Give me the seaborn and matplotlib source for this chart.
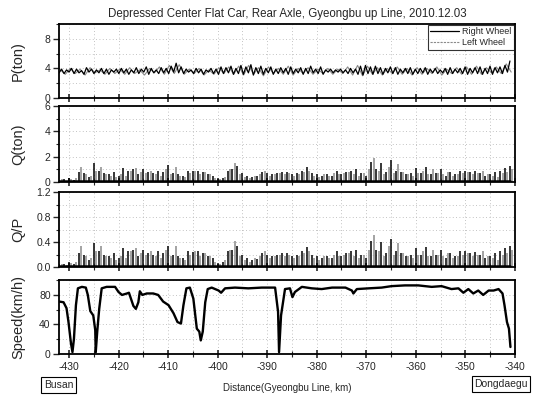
import numpy as np
import pandas as pd
import seaborn as sns
import matplotlib.pyplot as plt
from matplotlib.ticker import MultipleLocator

# ==========================================
# DATA
# ==========================================
title = 'Depressed Center Flat Car, Rear Axle, Gyeongbu up Line, 2010.12.03'
km_start, km_end = -432, -341

# wheel load P (ton), right wheel every 0.5 km, left wheel every 1 km
p_right = [3.4, 3.9, 3.3, 3.8, 3.5, 4.0, 3.3, 3.9, 3.4, 3.7, 3.2, 4.1, 3.5, 3.9, 3.3, 3.8, 3.4, 4.0, 3.3, 3.9, 3.2, 3.8, 3.5, 3.9,
           3.3, 4.0, 3.4, 3.9, 3.2, 3.8, 3.4, 4.1, 3.3, 3.9, 3.5, 4.2, 3.2, 4.0, 3.4, 3.8, 3.3, 4.1, 3.4, 4.0, 3.3, 4.3, 3.5, 4.7,
           3.4, 4.2, 3.3, 3.9, 3.5, 3.8, 3.3, 4.0, 3.4, 3.9, 3.2, 3.8, 3.5, 4.0, 3.3, 3.9, 3.2, 4.2, 3.3, 4.1, 3.4, 4.3, 3.2, 4.0,
           3.3, 4.4, 3.2, 4.2, 3.4, 4.5, 3.1, 4.1, 3.3, 4.3, 3.2, 4.0, 3.4, 4.2, 3.2, 3.9, 3.3, 4.1, 3.4, 4.0, 3.2, 4.2, 3.3, 3.9,
           3.4, 4.1, 3.2, 4.0, 3.3, 4.3, 3.4, 3.9, 3.3, 4.2, 3.2, 3.8, 3.5, 3.9, 3.4, 3.8, 3.5, 3.9, 3.4, 3.8, 3.3, 4.0, 3.4, 3.9,
           3.2, 4.3, 3.1, 4.4, 3.3, 4.2, 3.2, 4.3, 3.3, 4.1, 3.2, 4.0, 3.4, 4.2, 3.3, 4.1, 3.2, 3.9, 3.4, 4.0, 3.3, 4.1, 3.2, 3.9,
           3.3, 4.0, 3.4, 4.1, 3.2, 3.9, 3.4, 4.0, 3.3, 3.8, 3.4, 4.0, 3.2, 4.1, 3.3, 3.9, 3.4, 4.0, 3.3, 4.2, 3.2, 4.0, 3.4, 4.1,
           3.3, 4.2, 3.2, 4.0, 3.3, 4.3, 3.2, 4.1, 3.4, 4.2, 3.3, 4.4, 3.5, 5.0]
p_left = [3.8, 3.2, 4.0, 3.3, 3.9, 3.1, 4.1, 3.4, 3.8, 3.2, 4.0, 3.3,
          3.9, 3.2, 4.1, 3.3, 3.8, 3.1, 4.0, 3.4, 4.2, 3.2, 4.4, 3.3,
          4.5, 3.2, 3.9, 3.3, 4.0, 3.1, 3.8, 3.2, 4.1, 3.3, 4.2, 3.2,
          4.3, 3.1, 4.4, 3.2, 4.1, 3.0, 4.2, 3.3, 4.0, 3.2, 4.3, 3.1,
          4.0, 3.3, 4.1, 3.2, 3.9, 3.3, 4.0, 3.2, 3.9, 3.3, 4.2, 3.1,
          4.4, 3.0, 4.3, 3.2, 4.1, 3.1, 4.0, 3.3, 4.2, 3.2, 4.0, 3.1,
          4.1, 3.2, 4.0, 3.3, 4.2, 3.1, 3.9, 3.3, 4.1, 3.2, 4.2, 3.2,
          4.3, 3.2, 4.1, 3.4, 4.2, 3.3, 4.6, 3.5]

# lateral force Q (ton), peak per km
q_right = [0.15, 0.2, 0.3, 0.15, 0.8, 0.7, 0.4, 1.5, 0.9, 0.7, 0.6, 0.8, 0.5, 1.1, 0.9, 1.0,
           0.6, 1.0, 0.8, 0.7, 0.9, 0.8, 1.35, 0.7, 0.6, 0.5, 0.9, 0.85, 0.9, 0.8, 0.6, 0.5,
           0.2, 0.3, 0.9, 1.0, 1.3, 0.7, 0.5, 0.4, 0.45, 0.8, 0.7, 0.6, 0.7, 0.8,
           0.8, 0.6, 0.7, 0.9, 1.15, 0.7, 0.6, 0.5, 0.65, 0.5, 0.9, 0.6, 0.8, 0.9, 1.0, 0.7,
           0.5, 1.6, 1.0, 1.5, 0.8, 1.7, 0.9, 0.8, 0.6, 0.7, 1.1, 0.7, 1.15, 0.6, 0.7, 1.0,
           0.5, 0.8, 0.6, 0.9, 0.9, 0.8, 0.85, 0.7, 0.5, 0.6, 0.8, 0.9, 1.1, 1.3]
q_left = [0.2, 0.1, 0.25, 0.3, 1.2, 0.6, 0.5, 0.9, 1.2, 0.6, 0.5, 0.4, 0.6, 0.5, 0.9, 1.1,
          0.8, 0.7, 0.9, 0.6, 0.5, 1.0, 0.6, 1.2, 0.5, 0.4, 0.7, 0.9, 0.6, 0.8, 0.6, 0.3,
          0.2, 0.4, 1.0, 1.5, 0.6, 0.4, 0.3, 0.5, 0.6, 0.9, 0.5, 0.6, 0.7, 0.6,
          0.7, 0.5, 0.6, 0.8, 0.9, 0.5, 0.4, 0.6, 0.5, 0.7, 0.6, 0.7, 0.8, 0.6, 0.5, 0.7,
          1.0, 1.9, 0.9, 0.6, 1.2, 0.7, 1.4, 0.8, 0.6, 0.5, 0.7, 0.9, 0.6, 1.0, 0.7, 0.6,
          0.8, 0.5, 0.6, 0.7, 0.8, 0.6, 0.7, 0.9, 0.6, 0.5, 0.4, 0.7, 0.8, 1.0]

# derailment coefficient Q/P, peak per km
qp_right = [0.04, 0.05, 0.08, 0.04, 0.22, 0.19, 0.11, 0.38, 0.25, 0.19, 0.17, 0.22, 0.14, 0.3, 0.25, 0.28,
            0.17, 0.28, 0.22, 0.19, 0.25, 0.22, 0.33, 0.19, 0.17, 0.14, 0.25, 0.24, 0.25, 0.22, 0.17, 0.14,
            0.05, 0.08, 0.25, 0.28, 0.33, 0.19, 0.14, 0.11, 0.12, 0.22, 0.19, 0.17, 0.19, 0.22,
            0.22, 0.17, 0.19, 0.25, 0.32, 0.19, 0.17, 0.14, 0.18, 0.14, 0.25, 0.17, 0.22, 0.25, 0.28, 0.19,
            0.14, 0.42, 0.28, 0.4, 0.22, 0.45, 0.25, 0.22, 0.17, 0.19, 0.3, 0.19, 0.32, 0.17, 0.19, 0.28,
            0.14, 0.22, 0.17, 0.25, 0.25, 0.22, 0.24, 0.19, 0.14, 0.17, 0.22, 0.25, 0.3, 0.33]
qp_left = [0.05, 0.03, 0.07, 0.08, 0.33, 0.17, 0.14, 0.25, 0.33, 0.17, 0.14, 0.11, 0.17, 0.14, 0.25, 0.3,
           0.22, 0.19, 0.25, 0.17, 0.14, 0.28, 0.17, 0.33, 0.14, 0.11, 0.19, 0.25, 0.17, 0.22, 0.17, 0.08,
           0.05, 0.11, 0.28, 0.42, 0.17, 0.11, 0.08, 0.14, 0.17, 0.25, 0.14, 0.17, 0.19, 0.17,
           0.19, 0.14, 0.17, 0.22, 0.25, 0.14, 0.11, 0.17, 0.14, 0.19, 0.17, 0.19, 0.22, 0.17, 0.14, 0.19,
           0.28, 0.52, 0.25, 0.17, 0.33, 0.19, 0.38, 0.22, 0.17, 0.14, 0.19, 0.25, 0.17, 0.28, 0.19, 0.17,
           0.22, 0.14, 0.17, 0.19, 0.22, 0.17, 0.19, 0.25, 0.17, 0.14, 0.11, 0.19, 0.22, 0.28]

# running speed
speed_km = [-432.0, -431.1, -430.5, -430.1, -429.6, -429.3, -429.0, -428.6, -428.2, -427.4, -426.6, -426.2,
            -425.7, -425.1, -424.7, -424.6, -424.3, -423.9, -423.4, -422.4, -420.7, -420.0, -419.3, -418.3,
            -417.9, -417.5, -417.0, -416.5, -416.0, -415.7, -415.2, -414.3, -413.0, -412.0, -411.0, -409.9,
            -408.9, -408.1, -407.4, -406.9, -406.3, -405.6, -404.9, -404.2, -403.7, -403.4, -403.0, -402.5,
            -402.0, -401.2, -399.8, -399.3, -398.5, -396.5, -393.8, -391.1, -388.4, -387.8, -387.6, -387.2,
            -386.4, -385.4, -384.9, -384.4, -383.0, -381.0, -379.0, -376.9, -374.2, -372.9, -372.6, -371.9,
            -369.5, -366.9, -364.9, -362.2, -359.5, -356.8, -354.8, -352.8, -351.4, -350.4, -349.4, -348.4,
            -347.4, -346.4, -345.3, -344.3, -343.3, -342.5, -342.1, -341.6, -341.2, -340.9]
speed_kmh = [71, 70, 62, 43, 14, 2, 20, 66, 89, 91, 90, 80,
             58, 52, 32, 2, 30, 61, 89, 91, 91, 84, 80, 82,
             83, 75, 65, 61, 70, 85, 80, 82, 82, 80, 71, 66,
             55, 43, 41, 66, 89, 90, 75, 34, 30, 18, 30, 70,
             88, 90, 86, 83, 89, 90, 89, 90, 90, 57, 2, 52,
             88, 89, 77, 84, 91, 89, 88, 90, 90, 86, 82, 88,
             89, 90, 92, 93, 93, 91, 92, 88, 89, 83, 88, 82,
             86, 80, 86, 86, 88, 82, 66, 43, 34, 9]

# ==========================================
# PLOT
# ==========================================
sns.set_theme(style="ticks")
plt.rcParams['font.family'] = ['Liberation Sans', 'DejaVu Sans']
plt.rcParams['axes.linewidth'] = 1.3
plt.rcParams['axes.unicode_minus'] = False

right_color = 'black'
left_color = '#8a8a8a'

fig, axes = plt.subplots(4, 1, sharex=True, figsize=(5.42, 3.96), dpi=100)
fig.patch.set_facecolor('white')

# panel positions [left, bottom, width, height] in figure fraction
panel_pos = [[0.109, 0.7525, 0.841, 0.187],
             [0.109, 0.5404, 0.841, 0.192],
             [0.109, 0.3258, 0.841, 0.189],
             [0.109, 0.1071, 0.841, 0.187]]
for ax, pos in zip(axes, panel_pos):
    ax.set_position(pos)

# P
x_pr = np.linspace(km_start, km_end, len(p_right))
x_pl = np.linspace(km_start + 0.25, km_end + 0.25, len(p_left))
sns.lineplot(x=x_pl, y=p_left, ax=axes[0], color=left_color, linewidth=0.8, label='Left Wheel')
sns.lineplot(x=x_pr, y=p_right, ax=axes[0], color=right_color, linewidth=0.9, label='Right Wheel')

# Q and Q/P as spikes
x_r = np.linspace(km_start, km_end, len(q_right))
x_l = x_r + 0.5
axes[1].vlines(x_l, 0, q_left, color=left_color, linewidth=1.1)
axes[1].vlines(x_r, 0, q_right, color=right_color, linewidth=1.1)
axes[1].plot(x_r, np.full(len(x_r), 0.06), color=right_color, linewidth=1.8)
axes[2].vlines(x_l, 0, qp_left, color=left_color, linewidth=1.1)
axes[2].vlines(x_r, 0, qp_right, color=right_color, linewidth=1.1)
axes[2].plot(x_r, np.full(len(x_r), 0.015), color=right_color, linewidth=1.8)

# speed
sns.lineplot(x=speed_km, y=speed_kmh, ax=axes[3], color='black', linewidth=1.7, sort=False)

ylabels = ['P(ton)', 'Q(ton)', 'Q/P', 'Speed(km/h)']
ylims = [(0, 10), (0, 6), (0, 1.2), (0, 101)]
major = [4, 2, 0.4, 40]
for ax, lab, lim, mj in zip(axes, ylabels, ylims, major):
    ax.set_ylim(*lim)
    ax.set_xlim(-432, -340)
    ax.set_ylabel(lab, fontsize=10.5, labelpad=2)
    ax.yaxis.set_label_coords(-0.075, 0.5)
    ax.yaxis.set_major_locator(MultipleLocator(mj))
    ax.yaxis.set_minor_locator(MultipleLocator(mj / 2))
    ax.xaxis.set_major_locator(MultipleLocator(10))
    ax.xaxis.set_minor_locator(MultipleLocator(5))
    ax.tick_params(axis='y', which='major', direction='out', length=4, width=1, labelsize=7.5, pad=2)
    ax.tick_params(axis='y', which='minor', direction='out', length=2, width=0.8)
    ax.tick_params(axis='x', which='major', direction='inout', length=6, width=1.2, labelsize=7.5, pad=3)
    ax.tick_params(axis='x', which='minor', direction='inout', length=4, width=0.8)
    ax.grid(True, which='both', color='#b0b0b0', linestyle=(0, (1, 3)), linewidth=0.6)
    ax.set_axisbelow(True)
    for s in ax.spines.values():
        s.set_visible(True)
        s.set_color('black')

axes[2].yaxis.set_major_formatter(plt.FormatStrFormatter('%.1f'))

# legend, right wheel first as in the reference
handles, labels = axes[0].get_legend_handles_labels()
leg = axes[0].legend(handles[::-1], labels[::-1], loc='upper right', fontsize=6.5, frameon=True,
                     fancybox=False, edgecolor='black', borderaxespad=0.1, handlelength=3.2,
                     borderpad=0.25, labelspacing=0.25, handletextpad=0.4)
leg.get_frame().set_linewidth(0.8)
leg.get_lines()[1].set_linestyle((0, (2, 1)))

axes[0].set_title(title, fontsize=8.3, pad=5)
axes[3].set_xlabel('Distance(Gyeongbu Line, km)', fontsize=7, labelpad=8)

fig.text(58.5 / 542, 1 - 385 / 396, 'Busan', fontsize=7.5, ha='center', va='center',
         bbox=dict(boxstyle='square,pad=0.25', facecolor='white', edgecolor='black', linewidth=0.8))
fig.text(501 / 542, 1 - 384 / 396, 'Dongdaegu', fontsize=7.5, ha='center', va='center',
         bbox=dict(boxstyle='square,pad=0.25', facecolor='white', edgecolor='black', linewidth=0.8))

plt.savefig('out.png', dpi=100, facecolor='white')
plt.close()
